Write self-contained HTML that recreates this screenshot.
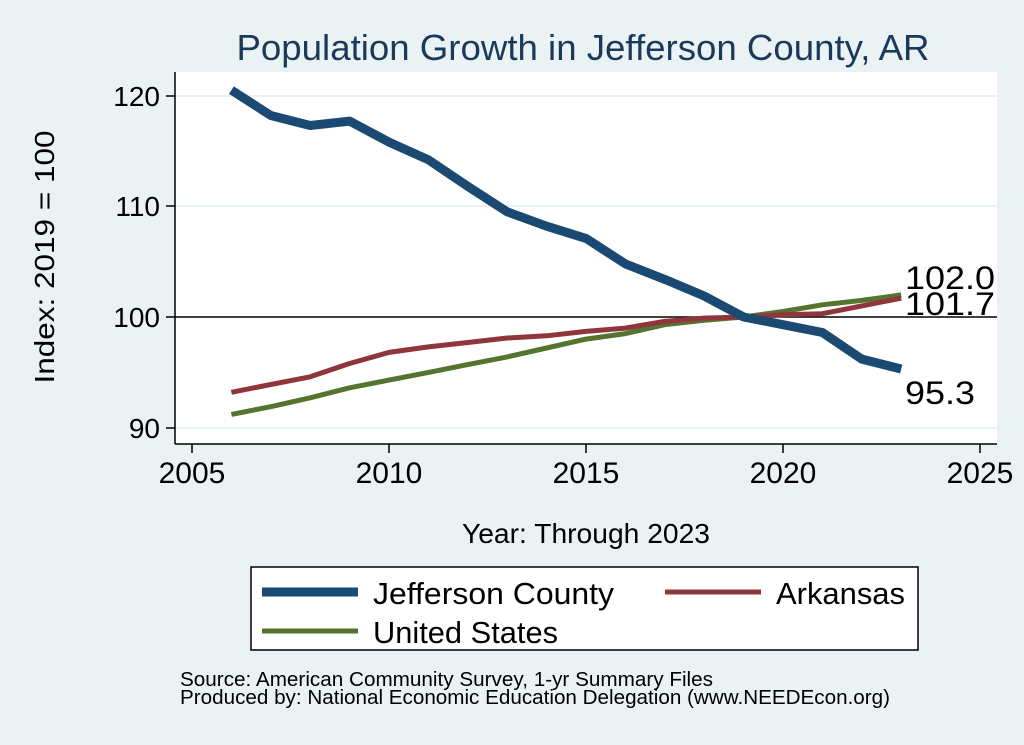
<!DOCTYPE html>
<html><head><meta charset="utf-8"><style>
body{margin:0;background:#eaf2f3;}
svg{display:block;font-family:"Liberation Sans",Arial,sans-serif;}
</style></head><body>
<svg id="s" width="1024" height="745" viewBox="0 0 1024 745">
<rect width="1024" height="745" fill="#eaf2f3"/>
<rect x="175" y="72" width="822" height="372" fill="#fff"/>
<g stroke="#eaf2f3" stroke-width="2">
<line x1="175" x2="997" y1="96" y2="96"/><line x1="175" x2="997" y1="206" y2="206"/><line x1="175" x2="997" y1="428" y2="428"/>
</g>
<line x1="175" x2="997" y1="317" y2="317" stroke="#000" stroke-width="1.5"/>
<g stroke="#000" stroke-width="1.5">
<line x1="175" y1="72" x2="175" y2="444"/><line x1="175" y1="444" x2="997" y2="444"/>
<line x1="166" x2="175" y1="96" y2="96"/><line x1="166" x2="175" y1="206" y2="206"/><line x1="166" x2="175" y1="317" y2="317"/><line x1="166" x2="175" y1="428" y2="428"/>
<line x1="192" x2="192" y1="444" y2="453"/><line x1="389" x2="389" y1="444" y2="453"/><line x1="586" x2="586" y1="444" y2="453"/><line x1="783" x2="783" y1="444" y2="453"/><line x1="980" x2="980" y1="444" y2="453"/>
</g>
<g font-size="28" fill="#000" text-anchor="end">
<text x="160" y="106">120</text><text x="160" y="216">110</text><text x="160" y="327">100</text><text x="160" y="438">90</text>
</g>
<g font-size="30" fill="#000" text-anchor="middle">
<text x="192" y="483">2005</text><text x="389" y="483">2010</text><text x="586" y="483">2015</text><text x="783" y="483">2020</text><text x="980" y="483">2025</text>
</g>
<text x="586" y="543" font-size="28" text-anchor="middle" textLength="248" lengthAdjust="spacingAndGlyphs">Year: Through 2023</text>
<text transform="translate(54,257) rotate(-90)" font-size="28" text-anchor="middle" textLength="253" lengthAdjust="spacingAndGlyphs">Index: 2019 = 100</text>
<text x="583" y="60" font-size="36" fill="#1a3a5c" text-anchor="middle" textLength="693" lengthAdjust="spacingAndGlyphs">Population Growth in Jefferson County, AR</text>
<g id="lines" fill="none" stroke-linejoin="round"></g>
<g font-size="32" fill="#000">
<text x="905" y="289" textLength="90" lengthAdjust="spacingAndGlyphs">102.0</text><text x="905" y="315" textLength="90" lengthAdjust="spacingAndGlyphs">101.7</text><text x="905" y="404" textLength="70" lengthAdjust="spacingAndGlyphs">95.3</text>
</g>
<rect x="251" y="567" width="667" height="83" fill="#fff" stroke="#000" stroke-width="1.5"/>
<line x1="262" x2="358" y1="592" y2="592" stroke="#1a4a72" stroke-width="9"/>
<text x="373" y="604" font-size="31" textLength="241" lengthAdjust="spacingAndGlyphs">Jefferson  County</text>
<line x1="665" x2="761" y1="592" y2="592" stroke="#90353b" stroke-width="5"/>
<text x="776" y="604" font-size="31" textLength="129" lengthAdjust="spacingAndGlyphs">Arkansas</text>
<line x1="262" x2="358" y1="631" y2="631" stroke="#55752f" stroke-width="5"/>
<text x="373" y="643" font-size="31" textLength="185" lengthAdjust="spacingAndGlyphs">United States</text>
<text x="180" y="686" font-size="20" textLength="533" lengthAdjust="spacingAndGlyphs">Source: American Community Survey, 1-yr Summary Files</text>
<text x="180" y="704" font-size="20" textLength="710" lengthAdjust="spacingAndGlyphs">Produced by: National Economic Education Delegation (www.NEEDEcon.org)</text>
</svg>
<script>
var J=[120.5,118.2,117.3,117.7,115.8,114.2,111.8,109.5,108.2,107.1,104.8,103.4,101.9,100,99.3,98.6,96.2,95.3];
var A=[93.2,93.9,94.6,95.8,96.8,97.3,97.7,98.1,98.3,98.7,99.0,99.6,99.9,100,100.2,100.3,101.0,101.7];
var U=[91.2,91.9,92.7,93.6,94.3,95.0,95.7,96.4,97.2,98.0,98.5,99.3,99.7,100,100.5,101.1,101.5,102.0];
function pts(d){return d.map(function(v,i){return (192+(i+1)*39.4).toFixed(1)+","+(317-(v-100)*11.07).toFixed(1)}).join(" ");}
var g=document.getElementById("lines");
[[U,"#55752f",5],[A,"#90353b",5],[J,"#1a4a72",9]].forEach(function(s){
var p=document.createElementNS("http://www.w3.org/2000/svg","polyline");
p.setAttribute("points",pts(s[0]));p.setAttribute("stroke",s[1]);p.setAttribute("stroke-width",s[2]);g.appendChild(p);});
</script>
</body></html>
